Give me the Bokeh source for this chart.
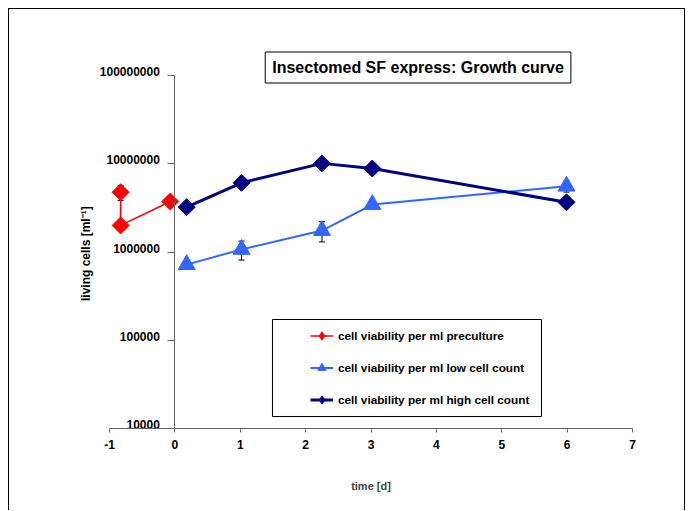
import numpy as np
from bokeh.plotting import figure
from bokeh.models import (ColumnDataSource, Whisker, TeeHead, Legend, LegendItem,
                          FixedTicker, CustomJSTickFormatter, Label, BoxAnnotation,
                          LogAxis)
from bokeh.core.properties import value
from bokeh.embed import file_html
from bokeh.resources import INLINE

# ---- data ----
pre_days = [-0.83, -0.83, -0.07]
pre_cells = [4.76e6, 2.0e6, 3.73e6]
pre_err = [0.92e6, 0.25e6, 0.0]

low_days = [0.18, 1.02, 2.25, 3.02, 5.99]
low_cells = [7.2e5, 1.07e6, 1.75e6, 3.45e6, 5.57e6]
low_err = [8.0e4, 2.6e5, 4.5e5, 2.0e5, 8.0e5]

high_days = [0.18, 1.02, 2.25, 3.02, 5.99]
high_cells = [3.22e6, 6.08e6, 1.01e7, 8.83e6, 3.66e6]

x_ticks = [-1, 0, 1, 2, 3, 4, 5, 6, 7]
y_ticks = [1e4, 1e5, 1e6, 1e7, 1e8]
y_tick_labels = ["10000", "100000", "1000000", "10000000", "100000000"]

series_names = ["cell viability per ml preculture",
                "cell viability per ml low cell count",
                "cell viability per ml high cell count"]
title_text = "Insectomed SF express: Growth curve"
x_title = "time [d]"
y_title = "living cells  [ml\u207b\u00b9]"

# ---- layout / style constants ----
FONT = "Liberation Sans"
RED = "#FF0000"
BLUE = "#3366FF"
NAVY = "#000080"
AXIS = "#666666"
PX_DAY = 65.375      # pixels per day
PX_DEC = 88.25       # pixels per decade
PAD_L = 39           # extra frame room left of x=-1 (and right of x=7)
PAD_T = 30           # extra frame room above 1e8

x_lo = x_ticks[0] - PAD_L / PX_DAY
x_hi = x_ticks[-1] + PAD_L / PX_DAY
y_lo = y_ticks[0]
y_hi = 10 ** (np.log10(y_ticks[-1]) + PAD_T / PX_DEC)

p = figure(width=677, height=502, x_range=(x_lo, x_hi), y_range=(y_lo, y_hi),
           y_axis_type="log", y_axis_location=None,
           output_backend="svg", toolbar_location=None,
           min_border_left=61, min_border_right=15, min_border_top=36,
           min_border_bottom=83)
p.margin = (8, 0, 0, 8)
p.styles = {"border-top": "1px solid black", "border-left": "1px solid black",
            "border-right": "1px solid black"}
p.outline_line_color = None
p.xgrid.visible = False
p.ygrid.visible = False
p.background_fill_color = "white"
p.border_fill_color = "white"

# x axis
xa = p.xaxis[0]
xa.bounds = (x_ticks[0], x_ticks[-1])
xa.ticker = FixedTicker(ticks=x_ticks)
xa.formatter = CustomJSTickFormatter(code="return tick.toString()")
xa.axis_line_color = AXIS
xa.major_tick_line_color = AXIS
xa.major_tick_in = 0
xa.major_tick_out = 4
xa.minor_tick_line_color = None
xa.major_label_standoff = 7
xa.major_label_text_font = FONT
xa.major_label_text_font_size = "12px"
xa.major_label_text_font_style = "bold"
xa.major_label_text_color = "black"
xa.axis_label = x_title
xa.axis_label_text_font = FONT
xa.axis_label_text_font_size = "11px"
xa.axis_label_text_font_style = "bold"
xa.axis_label_standoff = 28

# y axis crossing at x = 0 (rule + ticks); tick labels drawn as text at x = 0
ya = LogAxis(fixed_location=0, bounds=(y_ticks[0], y_ticks[-1]),
             ticker=FixedTicker(ticks=y_ticks),
             formatter=CustomJSTickFormatter(code="return ''"),
             axis_line_color=AXIS, major_tick_line_color=AXIS,
             major_tick_in=0, major_tick_out=7, minor_tick_line_color=None,
             major_label_standoff=0)
p.add_layout(ya, "left")

p.text(x=[0] * len(y_ticks), y=y_ticks, text=y_tick_labels, x_offset=-15,
       y_offset=-4, text_align="right", text_baseline="middle",
       text_font=value(FONT), text_font_size="12px", text_font_style="bold",
       text_color="black")

p.add_layout(Label(x=-1.367, y=1.0e6, text=y_title, angle=np.pi / 2,
                   text_align="center", text_baseline="middle", text_font=FONT,
                   text_font_size="12px", text_font_style="bold",
                   text_color="black"))

# legend frame
p.add_layout(BoxAnnotation(left=1.493, right=5.608, bottom=13680, top=171800,
                           fill_color="white", fill_alpha=1.0,
                           line_color="black", line_width=1, line_alpha=1.0))

# error bars
def err_source(xs, ys, es):
    up = [y + e for y, e in zip(ys, es)]
    lo = [y - e for y, e in zip(ys, es)]
    return ColumnDataSource(dict(x=xs, upper=up, lower=lo))

for xs, ys, es in [(pre_days, pre_cells, pre_err), (low_days, low_cells, low_err)]:
    src = err_source(xs, ys, es)
    w = Whisker(source=src, base="x", upper="upper", lower="lower",
                line_color="black", line_width=1, level="underlay",
                upper_head=TeeHead(size=6, line_color="black", line_width=1),
                lower_head=TeeHead(size=6, line_color="black", line_width=1))
    p.add_layout(w)

# series
r_pre_l = p.line(pre_days, pre_cells, line_color=RED, line_width=1.5)
r_pre_m = p.scatter(pre_days, pre_cells, marker="square", angle=np.pi / 4, size=12,
                    fill_color=RED, line_color=RED)
r_low_l = p.line(low_days, low_cells, line_color=BLUE, line_width=2)
r_low_m = p.scatter(low_days, low_cells, marker="triangle", size=17,
                    fill_color=BLUE, line_color=BLUE)
r_hi_l = p.line(high_days, high_cells, line_color=NAVY, line_width=3)
r_hi_m = p.scatter(high_days, high_cells, marker="square", angle=np.pi / 4, size=12,
                   fill_color=NAVY, line_color=NAVY)

# diamond glyphs used only for the legend swatches (hidden in the plot)
leg_pre = p.scatter(pre_days, pre_cells, marker="diamond", fill_color=RED,
                    line_color=RED, visible=False)
leg_hi = p.scatter(high_days, high_cells, marker="diamond", fill_color=NAVY,
                   line_color=NAVY, visible=False)

legend = Legend(items=[
    LegendItem(label=series_names[0], renderers=[r_pre_l, leg_pre]),
    LegendItem(label=series_names[1], renderers=[r_low_l, r_low_m]),
    LegendItem(label=series_names[2], renderers=[r_hi_l, leg_hi]),
], location=(240, 18), border_line_color=None, background_fill_alpha=0,
    inactive_fill_alpha=0,
    padding=6, spacing=11, label_height=21, glyph_height=21, glyph_width=23,
    label_standoff=5, margin=0, label_text_font=FONT,
    label_text_font_size="11.75px", label_text_font_style="bold",
    label_text_color="black")
p.add_layout(legend)

# title box
p.add_layout(Label(x=3.72, y=1.232e8, text=title_text, text_align="center",
                   text_baseline="middle", text_font=FONT, text_font_size="16px",
                   text_font_style="bold", text_color="black",
                   border_line_color="black", border_line_width=1,
                   background_fill_color="white", padding=7))

open("out.html", "w").write(file_html(p, INLINE))
